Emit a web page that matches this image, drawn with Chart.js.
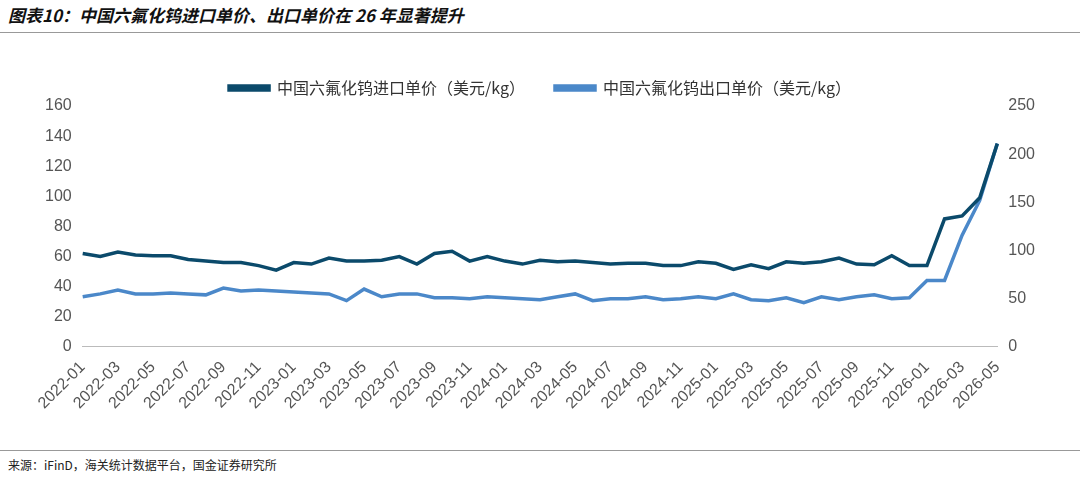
<!DOCTYPE html>
<html>
<head>
<meta charset="utf-8">
<script src="https://cdn.jsdelivr.net/npm/chart.js@4"></script>
<style>
  body { margin: 0; width: 1080px; height: 477px; background: #fff; font-family: "Noto Sans CJK SC", sans-serif; position: relative; overflow: hidden; }
  .title { position: absolute; left: 8px; top: 2px; font-size: 17px; font-weight: bold; font-style: italic; color: #111; }
  .line1 { position: absolute; left: 0; top: 32px; width: 1080px; border-top: 1px solid #999; }
  .line2 { position: absolute; left: 0; top: 450px; width: 1080px; border-top: 1px solid #999; }
  .source { position: absolute; left: 8px; top: 456px; font-size: 12px; color: #222; }
  #wrap { position: absolute; left: 20px; top: 50px; width: 1040px; height: 366px; }
</style>
</head>
<body>
<div class="title">图表10：中国六氟化钨进口单价、出口单价在 26 年显著提升</div>
<div class="line1"></div>
<div id="wrap"><canvas id="myChart"></canvas></div>
<div class="line2"></div>
<div class="source">来源：iFinD，海关统计数据平台，国金证券研究所</div>
<script>
const months = []
for (let y = 2022; y <= 2026; y++) {
  for (let m = 1; m <= 12; m++) {
    if (y === 2026 && m > 5) break
    months.push(y + '-' + String(m).padStart(2, '0'))
  }
}

// 进口单价（左轴）
const importPrice = [62, 60, 63, 61, 60.5, 60.5, 58, 57, 56, 56, 54, 51, 56, 55, 59, 57, 57, 57.5, 60, 55,
  62, 63.5, 57, 60, 57, 55, 57.5, 56.5, 57, 56, 55, 55.5, 55.5, 54, 54, 56.5, 55.5, 51.5, 54.5, 52,
  56.5, 55.5, 56.5, 59, 55, 54.5, 60.5, 54, 54, 85, 87, 99, 135]

// 出口单价（右轴）
const exportPrice = [52, 55, 59, 55, 55, 56, 55, 54, 61, 58, 59, 58, 57, 56, 55, 48, 60, 52, 55, 55,
  51, 51, 50, 52, 51, 50, 49, 52, 55, 48, 50, 50, 52, 49, 50, 52, 50, 55, 49, 48,
  51, 46, 52, 49, 52, 54, 50, 51, 69, 69, 116, 152, 211]

const tickFont = { family: 'Liberation Sans, Arial', size: 16 }

const ctx = document.getElementById('myChart').getContext('2d')
const myChart = new Chart(ctx, {
  type: 'line',
  data: {
    labels: months,
    datasets: [
      {
        label: '中国六氟化钨进口单价（美元/kg）',
        data: importPrice,
        borderColor: '#0b4a6b',
        backgroundColor: '#0b4a6b',
        borderWidth: 3.5,
        pointRadius: 0,
        tension: 0,
        yAxisID: 'y'
      },
      {
        label: '中国六氟化钨出口单价（美元/kg）',
        data: exportPrice,
        borderColor: '#4b88c9',
        backgroundColor: '#4b88c9',
        borderWidth: 3.5,
        pointRadius: 0,
        tension: 0,
        yAxisID: 'y1'
      }
    ]
  },
  options: {
    responsive: true,
    maintainAspectRatio: false,
    animation: false,
    layout: { padding: { left: 22, right: 22, top: 0 } },
    plugins: {
      legend: {
        labels: {
          boxWidth: 40,
          boxHeight: 4,
          padding: 30,
          color: '#333',
          font: { family: 'Noto Sans CJK SC', size: 16 }
        }
      },
      tooltip: { enabled: false }
    },
    scales: {
      x: {
        grid: { display: false },
        border: { color: '#bbb' },
        ticks: {
          autoSkip: false,
          maxRotation: 45,
          minRotation: 45,
          color: '#555',
          font: tickFont,
          callback: function (val, i) {
            return i % 2 === 0 ? months[i] : ''
          }
        }
      },
      y: {
        position: 'left',
        min: 0,
        max: 160,
        ticks: { stepSize: 20, color: '#555', font: tickFont },
        grid: { display: false },
        border: { display: false }
      },
      y1: {
        position: 'right',
        min: 0,
        max: 250,
        ticks: { stepSize: 50, color: '#555', font: tickFont },
        grid: { display: false },
        border: { display: false }
      }
    }
  }
})
</script>
</body>
</html>
